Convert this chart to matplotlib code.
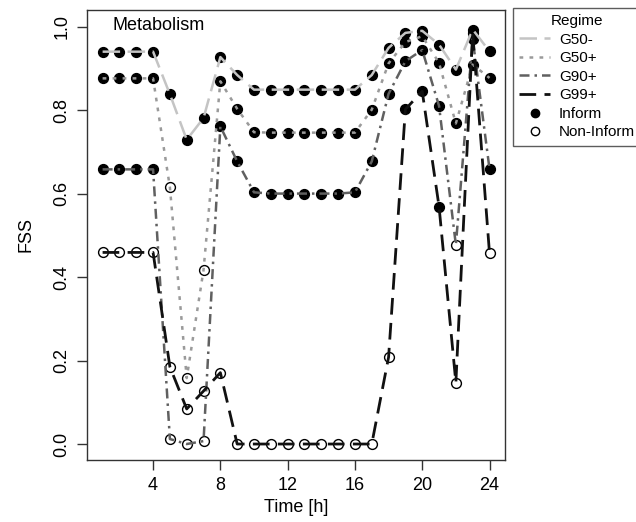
import numpy as np
import matplotlib
matplotlib.use("Agg")
import matplotlib.pyplot as plt
from matplotlib.lines import Line2D

plt.rcParams['font.family'] = ['Liberation Sans', 'DejaVu Sans']

# datos
horas = list(range(1, 25))
regimenes = ['G50-', 'G50+', 'G90+', 'G99+']

fss_g50m = [0.940, 0.940, 0.940, 0.940, 0.838, 0.729, 0.781, 0.927, 0.884, 0.849, 0.849, 0.849,
            0.849, 0.849, 0.849, 0.849, 0.884, 0.949, 0.985, 0.990, 0.957, 0.897, 0.993, 0.941]
fss_g50p = [0.876, 0.876, 0.876, 0.876, 0.615, 0.158, 0.417, 0.869, 0.803, 0.747, 0.746, 0.746,
            0.746, 0.746, 0.746, 0.746, 0.801, 0.912, 0.963, 0.977, 0.913, 0.768, 0.909, 0.877]
fss_g90p = [0.658, 0.658, 0.658, 0.658, 0.012, 0.000, 0.007, 0.761, 0.677, 0.603, 0.600, 0.600,
            0.600, 0.600, 0.600, 0.603, 0.677, 0.839, 0.917, 0.944, 0.810, 0.477, 0.970, 0.659]
fss_g99p = [0.459, 0.459, 0.459, 0.459, 0.185, 0.084, 0.127, 0.171, 0.000, 0.000, 0.000, 0.000,
            0.000, 0.000, 0.000, 0.000, 0.000, 0.208, 0.802, 0.845, 0.569, 0.147, 0.985, 0.457]

# 1 = Inform (relleno), 0 = Non-Inform (vacio)
inf_g50m = [1] * 24
inf_g50p = [1, 1, 1, 1, 0, 0, 0] + [1] * 17
inf_g90p = [1, 1, 1, 1, 0, 0, 0] + [1] * 14 + [0, 1, 1]
inf_g99p = [0] * 18 + [1, 1, 1, 0, 1, 0]

series = [fss_g50m, fss_g50p, fss_g90p, fss_g99p]
informes = [inf_g50m, inf_g50p, inf_g90p, inf_g99p]
colores = ['#c4c4c4', '#9a9a9a', '#606060', '#111111']
estilos = [(0, (7, 3)), (0, (1.5, 2.5)), (0, (4, 2, 1, 2)), (0, (6, 3))]
anchos = [1.8, 1.8, 1.8, 2.0]

fig = plt.figure(figsize=(6.36, 5.22), dpi=100)
ax = fig.add_axes([0.137, 0.119, 0.657, 0.862])

for y, inf, c, ls, lw in zip(series, informes, colores, estilos, anchos):
    inf = np.array(inf, dtype=bool)
    x = np.array(horas)
    yy = np.array(y)
    ax.scatter(x[inf], yy[inf], s=50, facecolor='black', edgecolor='black', linewidth=1, zorder=2)
    ax.scatter(x[~inf], yy[~inf], s=50, facecolor='white', edgecolor='black', linewidth=1, zorder=2)
    ax.plot(horas, y, color=c, linestyle=ls, linewidth=lw, zorder=3)

ax.set_xlim(0.08, 24.92)
ax.set_ylim(-0.038, 1.04)
ax.set_xticks([4, 8, 12, 16, 20, 24])
ax.set_yticks([0.0, 0.2, 0.4, 0.6, 0.8, 1.0])
ax.set_yticklabels(['0.0', '0.2', '0.4', '0.6', '0.8', '1.0'], rotation=90, va='center')
ax.tick_params(labelsize=13, length=7, width=1, color='#333333', pad=5)
for s in ax.spines.values():
    s.set_color('#333333')
    s.set_linewidth(1)

ax.set_xlabel('Time [h]', fontsize=13, labelpad=4)
ax.set_ylabel('FSS', fontsize=13, labelpad=14)
ax.text(0.06, 0.985, 'Metabolism', transform=ax.transAxes, fontsize=13, va='top', ha='left')

# leyenda
handles = [Line2D([], [], color=c, linestyle=ls, linewidth=lw) for c, ls, lw in zip(colores, estilos, anchos)]
handles.append(Line2D([], [], marker='o', linestyle='', markerfacecolor='black', markeredgecolor='black', markersize=6))
handles.append(Line2D([], [], marker='o', linestyle='', markerfacecolor='white', markeredgecolor='black', markersize=6))
etiquetas = regimenes + ['Inform', 'Non-Inform']
leg = fig.legend(handles, etiquetas, title='Regime', loc='upper left', bbox_to_anchor=(0.807, 0.985),
                 fontsize=11, title_fontsize=11, frameon=True, fancybox=False, borderaxespad=0,
                 handlelength=2.0, labelspacing=0.3, handletextpad=0.6, borderpad=0.4)
leg.get_frame().set_edgecolor('#333333')
leg.get_frame().set_linewidth(1)

plt.savefig('out.png', dpi=100)
